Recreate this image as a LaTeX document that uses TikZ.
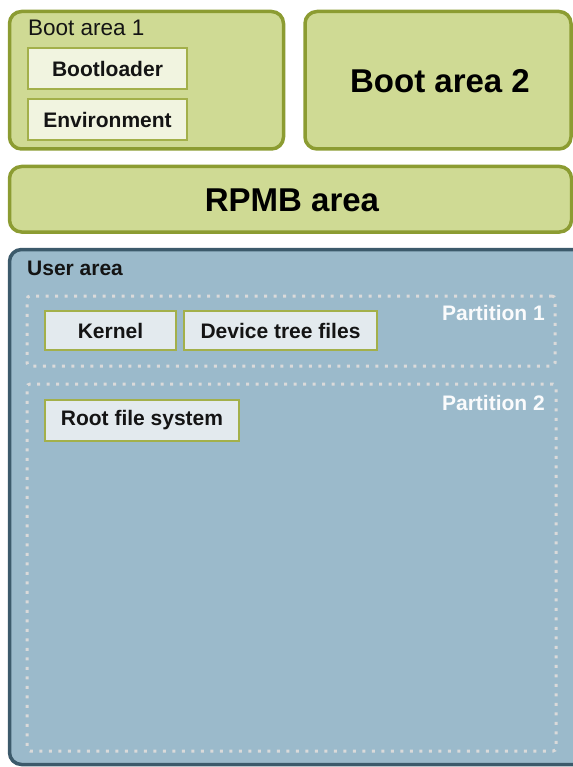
\documentclass[tikz,border=0pt]{standalone}
\usepackage{fontspec}
\setmainfont{Liberation Sans}
\definecolor{bootfill}{HTML}{CFDA94}
\definecolor{bootline}{HTML}{8C9C32}
\definecolor{itemfill}{HTML}{F1F4E0}
\definecolor{itemline}{HTML}{A3B04A}
\definecolor{userfill}{HTML}{9BBACB}
\definecolor{userline}{HTML}{3C5A6B}
\definecolor{partfill}{HTML}{E3EAEE}
\definecolor{dotline}{HTML}{DADADA}
\definecolor{inktext}{HTML}{141414}
\tikzset{
  region/.style={draw=bootline, fill=bootfill, line width=3.5pt, rounded corners=12pt,
    inner sep=0pt, outer sep=0pt, anchor=north west},
  userregion/.style={draw=userline, fill=userfill, line width=3.5pt, rounded corners=12pt,
    inner sep=0pt, outer sep=0pt, anchor=north west},
  bootitem/.style={draw=itemline, fill=itemfill, line width=2pt, inner sep=0pt,
    outer sep=0pt, anchor=north west, text=inktext,
    font=\fontsize{21}{25}\selectfont\bfseries},
  partitem/.style={bootitem, fill=partfill},
  partition/.style={draw=dotline, line width=3pt, dash pattern=on 3pt off 6.5pt,
    rounded corners=3pt, inner sep=0pt, outer sep=0pt, anchor=north west},
  biglabel/.style={text=black, font=\fontsize{33}{38}\selectfont\bfseries},
  smalllabel/.style={text=inktext, inner sep=0pt, font=\fontsize{22.5}{26}\selectfont},
  partlabel/.style={text=white!95!userfill, inner sep=0pt, anchor=east,
    font=\fontsize{21}{25}\selectfont\bfseries}
}
\begin{document}
\begin{tikzpicture}[x=1pt, y=-1pt]
\useasboundingbox (0,0) rectangle (572,767);

% boot partitions
\node[region, minimum width=274pt, minimum height=137.5pt] (boot1) at (9.5,11.5) {};
\node[smalllabel, anchor=base west] (boot1label) at (28,35.5) {Boot area 1};
\node[bootitem, minimum width=159pt, minimum height=41pt] (bootloader) at (28,48) {Bootloader};
\node[bootitem, minimum width=159pt, minimum height=41pt] (environment) at (28,99) {Environment};

\node[region, minimum width=266pt, minimum height=137.5pt] (boot2) at (305,11.5) {};
\node[biglabel] (boot2label) at (440,81) {Boot area 2};

% replay protected memory block
\node[region, minimum width=562pt, minimum height=65.5pt] (rpmb) at (9.5,166.5) {};
\node[biglabel] (rpmblabel) at (292,200.5) {RPMB area};

% user data area
\node[userregion, minimum width=590pt, minimum height=515pt] (user) at (9.5,249.5) {};
\node[smalllabel, anchor=west, font=\fontsize{21}{25}\selectfont\bfseries] (userlabel) at (27,268) {User area};

\node[partition, minimum width=528pt, minimum height=70pt] (part1) at (27,296) {};
\node[partlabel] (part1label) at (545,313) {Partition 1};
\node[partitem, minimum width=131pt, minimum height=39pt] (kernel) at (45,311) {Kernel};
\node[partitem, minimum width=193pt, minimum height=39pt] (dtb) at (184,311) {Device tree files};

\node[partition, minimum width=529pt, minimum height=367pt] (part2) at (27,384) {};
\node[partlabel] (part2label) at (545,403) {Partition 2};
\node[partitem, minimum width=194pt, minimum height=41pt] (rootfs) at (45,400) {Root file system};
\end{tikzpicture}
\end{document}
